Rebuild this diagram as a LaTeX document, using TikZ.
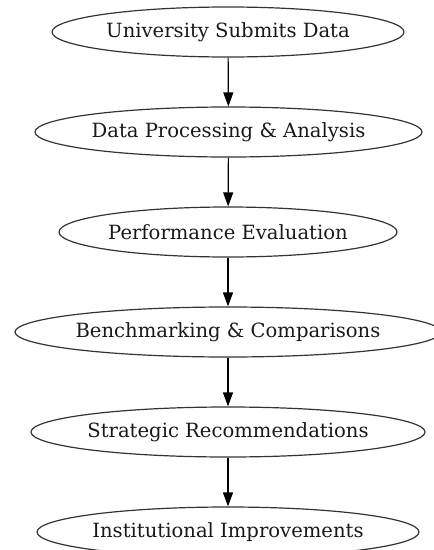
\documentclass[tikz,border=0pt]{standalone}
\usepackage{fontspec}
\setmainfont{DejaVu Serif}
\usetikzlibrary{shapes.geometric,arrows.meta}
\begin{document}
\begin{tikzpicture}[x=0.75pt,y=-0.75pt,
  stage/.style={ellipse,draw=black!80,line width=0.9pt,inner sep=0pt,
    minimum height=37.5pt,font=\fontsize{14.7pt}{17.5pt}\selectfont,text=black!90},
  flow/.style={line width=0.9pt,-{Triangle[length=10.5pt,width=7.5pt]}}]
\useasboundingbox (0,0) rectangle (434,550);
\node[stage,minimum width=264pt]   (n1) at (228,32)  {\makebox[0pt]{University Submits Data}};
\node[stage,minimum width=290.25pt](n2) at (228.5,132) {\makebox[0pt]{Data Processing \& Analysis}};
\node[stage,minimum width=253.5pt] (n3) at (228,232) {\makebox[0pt]{Performance Evaluation}};
\node[stage,minimum width=319.5pt] (n4) at (228,332) {\makebox[0pt]{Benchmarking \& Comparisons}};
\node[stage,minimum width=295.5pt] (n5) at (228,432) {\makebox[0pt]{Strategic Recommendations}};
\node[stage,minimum width=286.5pt] (n6) at (228,532) {\makebox[0pt]{Institutional Improvements}};
\draw[flow] (n1) -- (n2);
\draw[flow] (n2) -- (n3);
\draw[flow] (n3) -- (n4);
\draw[flow] (n4) -- (n5);
\draw[flow] (n5) -- (n6);
\end{tikzpicture}
\end{document}
